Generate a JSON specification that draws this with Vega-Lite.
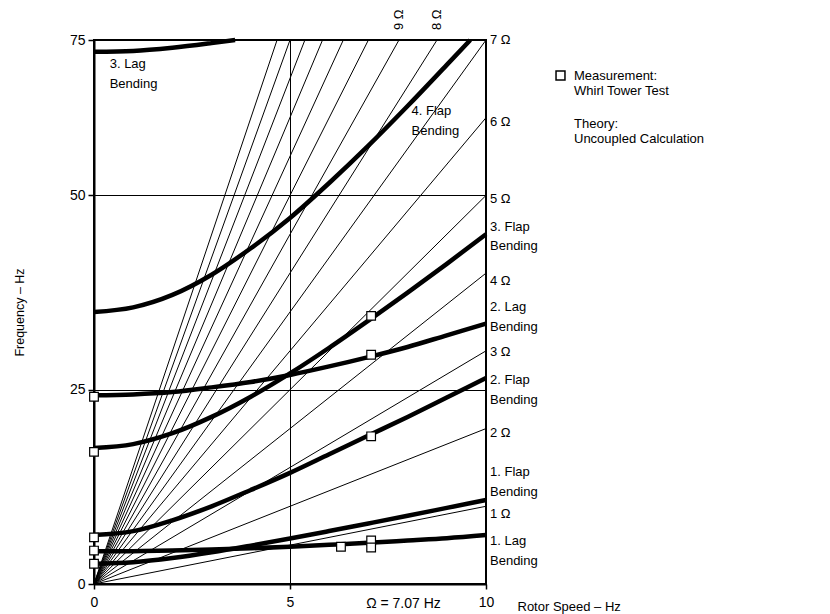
{
  "$schema": "https://vega.github.io/schema/vega-lite/v6.json",
  "width": 392,
  "height": 544,
  "autosize": {"type": "none"},
  "padding": {"left": 94, "top": 40, "right": 344, "bottom": 30},
  "background": "white",
  "config": {
    "view": {"stroke": "black", "strokeWidth": 2},
    "font": "Liberation Sans",
    "text": {"font": "Liberation Sans"}
  },
  "datasets": {
    "harmonics": [
      {"n": 1, "x": 0, "f": 0}, {"n": 1, "x": 10, "f": 10},
      {"n": 2, "x": 0, "f": 0}, {"n": 2, "x": 10, "f": 20},
      {"n": 3, "x": 0, "f": 0}, {"n": 3, "x": 10, "f": 30},
      {"n": 4, "x": 0, "f": 0}, {"n": 4, "x": 10, "f": 40},
      {"n": 5, "x": 0, "f": 0}, {"n": 5, "x": 10, "f": 50},
      {"n": 6, "x": 0, "f": 0}, {"n": 6, "x": 10, "f": 60},
      {"n": 7, "x": 0, "f": 0}, {"n": 7, "x": 10, "f": 70},
      {"n": 8, "x": 0, "f": 0}, {"n": 8, "x": 8.75, "f": 70},
      {"n": 9, "x": 0, "f": 0}, {"n": 9, "x": 7.78, "f": 70},
      {"n": 10, "x": 0, "f": 0}, {"n": 10, "x": 7.0, "f": 70},
      {"n": 11, "x": 0, "f": 0}, {"n": 11, "x": 6.36, "f": 70},
      {"n": 12, "x": 0, "f": 0}, {"n": 12, "x": 5.83, "f": 70},
      {"n": 13, "x": 0, "f": 0}, {"n": 13, "x": 5.38, "f": 70},
      {"n": 14, "x": 0, "f": 0}, {"n": 14, "x": 5.0, "f": 70},
      {"n": 15, "x": 0, "f": 0}, {"n": 15, "x": 4.67, "f": 70}
    ],
    "theory": [
      {"m": "1L", "x": 0, "f": 4.2}, {"m": "1L", "x": 1, "f": 4.23}, {"m": "1L", "x": 2, "f": 4.3}, {"m": "1L", "x": 3, "f": 4.43}, {"m": "1L", "x": 4, "f": 4.6}, {"m": "1L", "x": 5, "f": 4.8}, {"m": "1L", "x": 6, "f": 5.04}, {"m": "1L", "x": 7, "f": 5.3}, {"m": "1L", "x": 8, "f": 5.6}, {"m": "1L", "x": 9, "f": 5.9}, {"m": "1L", "x": 10, "f": 6.3},
      {"m": "1F", "x": 0, "f": 2.6}, {"m": "1F", "x": 1, "f": 2.8}, {"m": "1F", "x": 2, "f": 3.34}, {"m": "1F", "x": 3, "f": 4.08}, {"m": "1F", "x": 4, "f": 4.94}, {"m": "1F", "x": 5, "f": 5.85}, {"m": "1F", "x": 6, "f": 6.81}, {"m": "1F", "x": 7, "f": 7.79}, {"m": "1F", "x": 8, "f": 8.78}, {"m": "1F", "x": 9, "f": 9.79}, {"m": "1F", "x": 10, "f": 10.8},
      {"m": "2F", "x": 0, "f": 6.3}, {"m": "2F", "x": 1, "f": 6.8}, {"m": "2F", "x": 2, "f": 8.2}, {"m": "2F", "x": 3, "f": 10.0}, {"m": "2F", "x": 4, "f": 12.1}, {"m": "2F", "x": 5, "f": 14.3}, {"m": "2F", "x": 6, "f": 16.7}, {"m": "2F", "x": 7, "f": 19.1}, {"m": "2F", "x": 8, "f": 21.5}, {"m": "2F", "x": 9, "f": 24.0}, {"m": "2F", "x": 10, "f": 26.5},
      {"m": "2L", "x": 0, "f": 24.3}, {"m": "2L", "x": 1, "f": 24.4}, {"m": "2L", "x": 2, "f": 24.7}, {"m": "2L", "x": 3, "f": 25.3}, {"m": "2L", "x": 4, "f": 26.0}, {"m": "2L", "x": 5, "f": 26.9}, {"m": "2L", "x": 6, "f": 28.0}, {"m": "2L", "x": 7, "f": 29.2}, {"m": "2L", "x": 8, "f": 30.5}, {"m": "2L", "x": 9, "f": 32.0}, {"m": "2L", "x": 10, "f": 33.5},
      {"m": "3F", "x": 0, "f": 17.5}, {"m": "3F", "x": 1, "f": 18.0}, {"m": "3F", "x": 2, "f": 19.4}, {"m": "3F", "x": 3, "f": 21.5}, {"m": "3F", "x": 4, "f": 24.1}, {"m": "3F", "x": 5, "f": 27.1}, {"m": "3F", "x": 6, "f": 30.4}, {"m": "3F", "x": 7, "f": 33.9}, {"m": "3F", "x": 8, "f": 37.5}, {"m": "3F", "x": 9, "f": 41.2}, {"m": "3F", "x": 10, "f": 45.0},
      {"m": "4F", "x": 0, "f": 35.0}, {"m": "4F", "x": 1, "f": 35.6}, {"m": "4F", "x": 2, "f": 37.2}, {"m": "4F", "x": 3, "f": 39.8}, {"m": "4F", "x": 4, "f": 43.2}, {"m": "4F", "x": 5, "f": 47.1}, {"m": "4F", "x": 6, "f": 51.6}, {"m": "4F", "x": 7, "f": 56.4}, {"m": "4F", "x": 8, "f": 61.5}, {"m": "4F", "x": 9, "f": 66.8}, {"m": "4F", "x": 9.6, "f": 70.0},
      {"m": "3L", "x": 0, "f": 68.5}, {"m": "3L", "x": 1, "f": 68.6}, {"m": "3L", "x": 2, "f": 69.0}, {"m": "3L", "x": 3, "f": 69.6}, {"m": "3L", "x": 3.6, "f": 70.0}
    ],
    "measured": [
      {"x": 0, "f": 24.1}, {"x": 0, "f": 17.0}, {"x": 0, "f": 6.0}, {"x": 0, "f": 4.3}, {"x": 0, "f": 2.6},
      {"x": 7.07, "f": 34.5}, {"x": 7.07, "f": 29.5}, {"x": 7.07, "f": 19.0}, {"x": 7.07, "f": 5.6}, {"x": 7.07, "f": 4.7}, {"x": 6.3, "f": 4.8}
    ],
    "rightLabels": [
      {"x": 10, "f": 70, "t": "7 Ω"},
      {"x": 10, "f": 59.5, "t": "6 Ω"},
      {"x": 10, "f": 49.5, "t": "5 Ω"},
      {"x": 10, "f": 46.0, "t": "3. Flap"},
      {"x": 10, "f": 43.5, "t": "Bending"},
      {"x": 10, "f": 39.0, "t": "4 Ω"},
      {"x": 10, "f": 35.6, "t": "2. Lag"},
      {"x": 10, "f": 33.1, "t": "Bending"},
      {"x": 10, "f": 29.8, "t": "3 Ω"},
      {"x": 10, "f": 26.2, "t": "2. Flap"},
      {"x": 10, "f": 23.7, "t": "Bending"},
      {"x": 10, "f": 19.4, "t": "2 Ω"},
      {"x": 10, "f": 14.4, "t": "1. Flap"},
      {"x": 10, "f": 11.8, "t": "Bending"},
      {"x": 10, "f": 9.0, "t": "1 Ω"},
      {"x": 10, "f": 5.5, "t": "1. Lag"},
      {"x": 10, "f": 2.9, "t": "Bending"}
    ],
    "innerLabels": [
      {"x": 0.4, "f": 66.9, "t": "3. Lag"},
      {"x": 0.4, "f": 64.4, "t": "Bending"},
      {"x": 8.1, "f": 60.8, "t": "4. Flap"},
      {"x": 8.1, "f": 58.3, "t": "Bending"}
    ],
    "topLabels": [
      {"x": 7.78, "f": 70, "t": "9 Ω"},
      {"x": 8.75, "f": 70, "t": "8 Ω"}
    ],
    "speedNote": [
      {"x": 7.07, "f": 0, "t": "Ω = 7.07 Hz"}
    ]
  },
  "layer": [
    {
      "data": {"name": "harmonics"},
      "mark": {"type": "line", "color": "black", "strokeWidth": 1},
      "encoding": {
        "x": {
          "field": "x", "type": "quantitative",
          "scale": {"domain": [0, 10], "nice": false},
          "axis": {
            "values": [0, 5, 10], "grid": true, "gridColor": "black", "gridWidth": 1, "gridOpacity": 1,
            "domainColor": "black", "domainWidth": 2, "tickColor": "black", "tickSize": 5, "tickWidth": 1.5,
            "labelFontSize": 14, "labelColor": "black", "labelPadding": 6, "labelFont": "Liberation Sans", "labelFlush": false,
            "title": "Rotor Speed – Hz", "titleFont": "Liberation Sans", "titleFontSize": 13, "titleFontWeight": "normal", "titleColor": "black",
            "titleX": 423, "titleY": 22, "titleAlign": "left", "titleAnchor": "start", "titleBaseline": "middle"
          }
        },
        "y": {
          "field": "f", "type": "quantitative",
          "scale": {"domain": [0, 70], "nice": false},
          "axis": {
            "values": [0, 25, 50, 70], "labelExpr": "datum.value == 70 ? '75' : datum.label",
            "grid": true, "gridColor": "black", "gridWidth": 1, "gridOpacity": 1,
            "domainColor": "black", "domainWidth": 2, "tickColor": "black", "tickSize": 6, "tickWidth": 1.5,
            "labelFontSize": 14, "labelColor": "black", "labelPadding": 3, "labelFont": "Liberation Sans",
            "title": "Frequency – Hz", "titleFont": "Liberation Sans", "titleFontSize": 12.5, "titleFontWeight": "normal", "titleColor": "black",
            "titleX": -75, "titleY": 272, "titleAlign": "center", "titleAngle": -90, "titleBaseline": "middle"
          }
        },
        "detail": {"field": "n", "type": "nominal"}
      }
    },
    {
      "mark": {"type": "rule", "color": "black", "strokeWidth": 1.5, "strokeDash": [9, 3, 2, 3]},
      "encoding": {"x": {"datum": 7.07}}
    },
    {
      "data": {"name": "theory"},
      "mark": {"type": "line", "strokeWidth": 4.5, "interpolate": "monotone", "strokeCap": "butt"},
      "encoding": {
        "x": {"field": "x", "type": "quantitative"},
        "y": {"field": "f", "type": "quantitative"},
        "detail": {"field": "m", "type": "nominal"},
        "color": {
          "datum": "Theory", "type": "nominal", "scale": {"range": ["black"]},
          "legend": {
            "orient": "none", "legendX": 460, "legendY": 77, "title": null, "padding": 0,
            "labelExpr": "['Theory:', 'Uncoupled Calculation']", "labelFontSize": 13, "labelFont": "Liberation Sans", "labelColor": "black",
            "symbolOpacity": 0, "symbolType": "square", "symbolSize": 80, "labelOffset": 7, "labelLimit": 300
          }
        }
      }
    },
    {
      "data": {"name": "measured"},
      "mark": {"type": "point", "filled": false, "fill": "white", "fillOpacity": 1, "color": "black", "strokeWidth": 1.2, "size": 75, "opacity": 1},
      "encoding": {
        "x": {"field": "x", "type": "quantitative"},
        "y": {"field": "f", "type": "quantitative"},
        "shape": {
          "datum": "Measurement", "type": "nominal", "scale": {"range": ["square"]},
          "legend": {
            "orient": "none", "legendX": 460, "legendY": 29, "title": null, "padding": 0,
            "labelExpr": "['Measurement:', 'Whirl Tower Test']", "labelFontSize": 13, "labelFont": "Liberation Sans", "labelColor": "black",
            "symbolSize": 80, "labelOffset": 7, "labelLimit": 300,
            "encode": {
              "symbols": {
                "update": {
                  "fill": {"value": "white"},
                  "stroke": {"value": "black"},
                  "strokeWidth": {"value": 1.2},
                  "opacity": {"value": 1},
                  "fillOpacity": {"value": 1},
                  "strokeOpacity": {"value": 1}
                }
              }
            }
          }
        }
      }
    },
    {
      "data": {"name": "rightLabels"},
      "mark": {"type": "text", "align": "left", "baseline": "middle", "dx": 4, "fontSize": 13, "color": "black"},
      "encoding": {
        "x": {"field": "x", "type": "quantitative"},
        "y": {"field": "f", "type": "quantitative"},
        "text": {"field": "t"}
      }
    },
    {
      "data": {"name": "innerLabels"},
      "mark": {"type": "text", "align": "left", "baseline": "middle", "fontSize": 13, "color": "black"},
      "encoding": {
        "x": {"field": "x", "type": "quantitative"},
        "y": {"field": "f", "type": "quantitative"},
        "text": {"field": "t"}
      }
    },
    {
      "data": {"name": "topLabels"},
      "mark": {"type": "text", "align": "left", "baseline": "middle", "angle": 270, "dx": 10, "fontSize": 13, "color": "black"},
      "encoding": {
        "x": {"field": "x", "type": "quantitative"},
        "y": {"field": "f", "type": "quantitative"},
        "text": {"field": "t"}
      }
    },
    {
      "data": {"name": "speedNote"},
      "mark": {"type": "text", "align": "left", "baseline": "middle", "dx": -5, "dy": 20, "fontSize": 14, "color": "black"},
      "encoding": {
        "x": {"field": "x", "type": "quantitative"},
        "y": {"field": "f", "type": "quantitative"},
        "text": {"field": "t"}
      }
    }
  ]
}
